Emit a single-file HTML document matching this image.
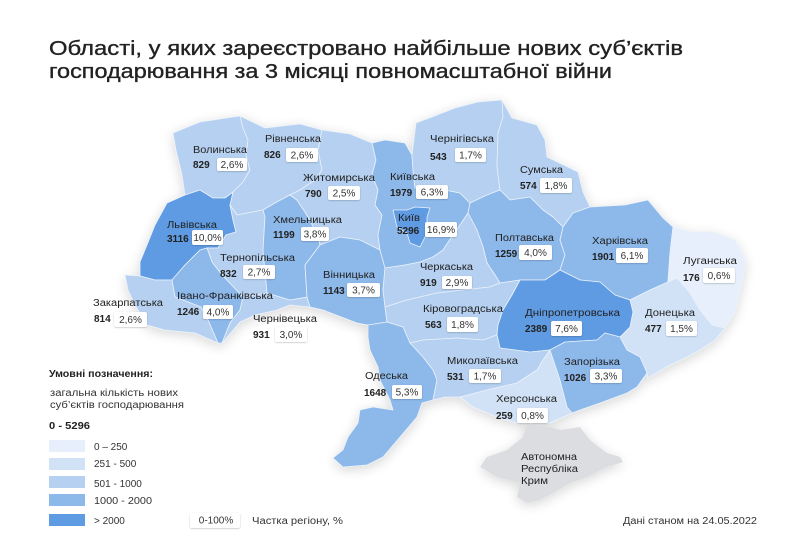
<!DOCTYPE html>
<html><head><meta charset="utf-8">
<style>
html,body{margin:0;padding:0;background:#fff;}
svg{display:block;}
text{font-family:"Liberation Sans",sans-serif;}
.n{font-size:10px;fill:#222;}
.v{font-size:10px;font-weight:bold;fill:#222;}
.p{font-size:10px;fill:#333;text-anchor:middle;}
.b{fill:#fff;filter:url(#bs);}
.c1{fill:#e6effb;}.c2{fill:#d1e2f6;}.c3{fill:#b5d0f0;}.c4{fill:#8db8ea;}.c5{fill:#5f9be2;}
.rg polygon{stroke:#e9f1fb;stroke-width:0.8;stroke-linejoin:round;}
.lg{font-size:10px;fill:#333;}
</style></head><body>
<svg width="800" height="560" viewBox="0 0 800 560" xmlns="http://www.w3.org/2000/svg">
<defs>
<filter id="sh" x="-20%" y="-20%" width="140%" height="140%">
<feGaussianBlur in="SourceAlpha" stdDeviation="6"/>
<feOffset dy="3"/>
<feComponentTransfer><feFuncA type="linear" slope="0.16"/></feComponentTransfer>
<feMerge><feMergeNode/><feMergeNode in="SourceGraphic"/></feMerge>
</filter>
<filter id="bs" x="-20%" y="-30%" width="140%" height="160%">
<feDropShadow dx="0" dy="0.6" stdDeviation="0.8" flood-color="#000" flood-opacity="0.25"/>
</filter>
</defs>
<rect width="800" height="560" fill="#fff"/>

<text x="49" y="55" font-size="20" fill="#222" stroke="#222" stroke-width="0.35" textLength="634" lengthAdjust="spacingAndGlyphs">Області, у яких зареєстровано найбільше нових суб’єктів</text>
<text x="49" y="78" font-size="20" fill="#222" stroke="#222" stroke-width="0.35" textLength="563" lengthAdjust="spacingAndGlyphs">господарювання за 3 місяці повномасштабної війни</text>

<g class="rg" filter="url(#sh)">
<!-- Crimea -->
<polygon fill="#dcdde1" style="stroke:none" points="527,423 550,427 560,430 580,427 590,440 607,453 620,457 623,462 607,467 587,477 570,483 553,493 540,500 527,503 517,497 520,483 497,477 480,467 487,457 507,450 523,437"/>
<!-- Volyn -->
<polygon class="c3" points="173,133 200,122 240,116 243,128 248,140 246,155 250,170 243,182 233,192 225,198 213,198 200,190 185,195 182,175 176,150"/>
<!-- Rivne -->
<polygon class="c3" points="240,116 265,128 300,124 322,130 318,150 322,170 315,180 300,190 290,195 275,203 263,210 237,215 230,205 233,192 243,182 250,170 246,155 248,140 243,128"/>
<!-- Lviv -->
<polygon class="c5" points="167,203 185,195 200,190 213,198 225,198 233,192 230,205 233,220 236,232 226,235 218,248 207,248 200,250 185,265 172,280 155,280 140,276 140,262 147,245 155,225"/>
<!-- Ternopil -->
<polygon class="c3" points="230,205 237,215 263,210 265,217 263,250 267,293 243,297 222,275 212,262 207,248 218,248 226,235 236,232 233,220"/>
<!-- Ivano-Frankivsk -->
<polygon class="c4" points="172,280 185,265 200,250 207,248 212,262 222,275 243,297 240,310 230,323 222,343 218,343 208,320 201,307 175,297"/>
<!-- Zakarpattia -->
<polygon class="c3" points="125,275 140,276 155,280 172,280 175,297 201,307 208,320 218,343 195,333 165,330 147,325 135,305 128,290"/>
<!-- Chernivtsi -->
<polygon class="c3" points="243,297 267,293 290,300 307,297 310,307 290,305 277,310 255,315 240,322 222,343 230,323 240,310"/>
<!-- Khmelnytsk -->
<polygon class="c4" points="263,210 275,203 290,195 297,200 305,212 318,235 320,245 305,265 307,297 290,300 267,293 263,250 265,217"/>
<!-- Zhytomyr -->
<polygon class="c3" points="322,130 350,134 372,143 376,160 372,175 378,190 375,205 382,215 378,235 380,250 360,240 340,237 320,245 318,235 305,212 297,200 290,195 300,190 315,180 322,170 318,150"/>
<!-- Vinnytsia -->
<polygon class="c4" points="320,245 340,237 360,240 380,250 385,268 383,290 385,307 387,322 368,325 357,323 323,310 310,307 307,297 305,265"/>
<!-- Kyivska -->
<polygon class="c4" points="372,143 385,140 405,143 412,155 413,170 415,188 430,190 445,190 460,193 470,203 468,213 462,222 453,235 443,250 433,257 420,262 405,265 385,268 380,250 378,235 382,215 375,205 378,190 372,175 376,160"/>
<!-- Kyiv city -->
<polygon class="c5" points="393,210 407,210 415,207 430,208 427,217 427,233 420,247 410,243 407,233 397,227"/>
<!-- Chernihiv -->
<polygon class="c3" points="412,155 416,123 432,117 455,108 478,102 502,100 503,117 498,133 497,167 500,190 487,195 470,203 460,193 445,190 430,190 415,188 413,170"/>
<!-- Sumy -->
<polygon class="c3" points="502,100 512,118 537,125 545,140 547,157 578,172 583,192 590,207 573,213 563,227 553,217 543,210 530,197 510,200 500,190 497,167 498,133 503,117"/>
<!-- Poltava -->
<polygon class="c4" points="468,213 470,203 487,195 500,190 510,200 530,197 543,210 553,217 563,227 560,240 565,255 560,270 545,280 520,280 500,283 495,275 487,263 483,247 477,230"/>
<!-- Cherkasy -->
<polygon class="c3" points="385,268 405,265 420,262 433,257 443,250 453,235 462,222 468,213 477,230 483,247 487,263 495,275 500,283 490,287 463,290 437,293 407,300 385,307 383,290"/>
<!-- Kharkiv -->
<polygon class="c4" points="563,227 573,213 590,207 625,205 648,200 663,218 673,227 670,253 668,282 650,290 630,300 615,295 600,282 580,280 560,270 565,255 560,240"/>
<!-- Luhansk -->
<polygon class="c1" points="673,227 690,232 712,232 735,240 746,262 740,290 735,312 725,328 712,325 700,310 690,293 677,278 668,282 670,253"/>
<!-- Donetsk -->
<polygon class="c2" points="630,300 650,290 668,282 677,278 690,293 700,310 712,325 725,328 715,340 700,350 685,358 668,366 648,378 647,373 640,357 627,350 620,337 630,327 633,312"/>
<!-- Kirovohrad -->
<polygon class="c3" points="385,307 407,300 437,293 463,290 490,287 500,283 520,280 512,295 503,310 498,325 497,335 483,340 457,338 423,340 410,343 403,327 387,322"/>
<!-- Dnipro -->
<polygon class="c5" points="520,280 545,280 560,270 580,280 600,282 615,295 630,300 633,312 630,327 620,337 605,333 597,340 565,342 550,350 530,352 500,348 497,335 498,325 503,310 512,295"/>
<!-- Odesa -->
<polygon class="c4" points="368,325 387,322 403,327 410,343 423,357 433,370 437,380 433,400 422,403 417,417 400,437 383,457 367,465 343,467 333,458 343,450 348,437 358,423 360,410 373,407 393,410 390,400 380,380 378,367 370,350 368,337"/>
<!-- Mykolaiv -->
<polygon class="c3" points="410,343 423,340 457,338 483,340 497,335 500,348 530,352 550,350 543,360 537,370 517,383 487,390 460,397 445,397 433,400 437,380 433,370 423,357"/>
<!-- Kherson -->
<polygon class="c2" points="460,397 487,390 517,383 537,370 543,360 550,350 560,380 567,407 572,413 550,423 517,423 497,417 473,407"/>
<!-- Zaporizhzhia -->
<polygon class="c4" points="550,350 565,342 597,340 605,333 620,337 627,350 640,357 647,373 637,387 627,393 600,403 580,410 572,413 567,407 560,380"/>
</g>

<!-- Labels -->
<g>
<text class="n" x="193" y="153" textLength="54" lengthAdjust="spacingAndGlyphs">Волинська</text>
<text class="v" x="193" y="168">829</text>
<rect class="b" x="217" y="158" width="30" height="13" rx="2"/><text class="p" x="232" y="168">2,6%</text>

<text class="n" x="265" y="142" textLength="56" lengthAdjust="spacingAndGlyphs">Рівненська</text>
<text class="v" x="264" y="158">826</text>
<rect class="b" x="286" y="148" width="32" height="14" rx="2"/><text class="p" x="302" y="158.5">2,6%</text>

<text class="n" x="303" y="181" textLength="72" lengthAdjust="spacingAndGlyphs">Житомирська</text>
<text class="v" x="305" y="197">790</text>
<rect class="b" x="328" y="186" width="32" height="14" rx="2"/><text class="p" x="344" y="196.5">2,5%</text>

<text class="n" x="390" y="180" textLength="45" lengthAdjust="spacingAndGlyphs">Київська</text>
<text class="v" x="390" y="196">1979</text>
<rect class="b" x="416" y="185" width="32" height="14" rx="2"/><text class="p" x="432" y="195.5">6,3%</text>

<text class="n" x="430" y="142" textLength="64" lengthAdjust="spacingAndGlyphs">Чернігівська</text>
<text class="v" x="430" y="160">543</text>
<rect class="b" x="455" y="148" width="31" height="14" rx="2"/><text class="p" x="470.5" y="158.5">1,7%</text>

<text class="n" x="520" y="173" textLength="43" lengthAdjust="spacingAndGlyphs">Сумська</text>
<text class="v" x="520" y="189">574</text>
<rect class="b" x="540" y="178" width="32" height="15" rx="2"/><text class="p" x="556" y="189">1,8%</text>

<text class="n" x="398" y="221" textLength="22" lengthAdjust="spacingAndGlyphs">Київ</text>
<text class="v" x="397" y="234">5296</text>
<rect class="b" x="425" y="222" width="32" height="15" rx="2"/><text class="p" x="441" y="233">16,9%</text>

<text class="n" x="167" y="228" textLength="50" lengthAdjust="spacingAndGlyphs">Львівська</text>
<text class="v" x="167" y="242">3116</text>
<rect class="b" x="192" y="230" width="31" height="15" rx="2"/><text class="p" x="207.5" y="241">10,0%</text>

<text class="n" x="273" y="223" textLength="69" lengthAdjust="spacingAndGlyphs">Хмельницька</text>
<text class="v" x="273" y="238">1199</text>
<rect class="b" x="301" y="227" width="28" height="14" rx="2"/><text class="p" x="315" y="237.5">3,8%</text>

<text class="n" x="495" y="241" textLength="59" lengthAdjust="spacingAndGlyphs">Полтавська</text>
<text class="v" x="495" y="257">1259</text>
<rect class="b" x="519" y="245" width="33" height="15" rx="2"/><text class="p" x="535.5" y="256">4,0%</text>

<text class="n" x="592" y="244" textLength="56" lengthAdjust="spacingAndGlyphs">Харківська</text>
<text class="v" x="592" y="260">1901</text>
<rect class="b" x="616" y="248" width="32" height="15" rx="2"/><text class="p" x="632" y="259">6,1%</text>

<text class="n" x="683" y="264" textLength="54" lengthAdjust="spacingAndGlyphs">Луганська</text>
<text class="v" x="683" y="281">176</text>
<rect class="b" x="703" y="268" width="32" height="15" rx="2"/><text class="p" x="719" y="279">0,6%</text>

<text class="n" x="220" y="261" textLength="75" lengthAdjust="spacingAndGlyphs">Тернопільська</text>
<text class="v" x="220" y="277">832</text>
<rect class="b" x="243" y="265" width="32" height="14" rx="2"/><text class="p" x="259" y="275.5">2,7%</text>

<text class="n" x="323" y="278" textLength="52" lengthAdjust="spacingAndGlyphs">Вінницька</text>
<text class="v" x="323" y="294">1143</text>
<rect class="b" x="347" y="283" width="33" height="14" rx="2"/><text class="p" x="363.5" y="293.5">3,7%</text>

<text class="n" x="420" y="270" textLength="53" lengthAdjust="spacingAndGlyphs">Черкаська</text>
<text class="v" x="420" y="286">919</text>
<rect class="b" x="442" y="276" width="30" height="13" rx="2"/><text class="p" x="457" y="286">2,9%</text>

<text class="n" x="423" y="312" textLength="80" lengthAdjust="spacingAndGlyphs">Кіровоградська</text>
<text class="v" x="425" y="328">563</text>
<rect class="b" x="447" y="317" width="31" height="15" rx="2"/><text class="p" x="462.5" y="328">1,8%</text>

<text class="n" x="525" y="316" textLength="95" lengthAdjust="spacingAndGlyphs">Дніпропетровська</text>
<text class="v" x="525" y="332">2389</text>
<rect class="b" x="551" y="321" width="31" height="15" rx="2"/><text class="p" x="566.5" y="332">7,6%</text>

<text class="n" x="645" y="316" textLength="50" lengthAdjust="spacingAndGlyphs">Донецька</text>
<text class="v" x="645" y="332">477</text>
<rect class="b" x="666" y="321" width="31" height="15" rx="2"/><text class="p" x="681.5" y="332">1,5%</text>

<text class="n" x="93" y="306" textLength="70" lengthAdjust="spacingAndGlyphs">Закарпатська</text>
<text class="v" x="94" y="322">814</text>
<rect class="b" x="114" y="312" width="33" height="15" rx="2"/><text class="p" x="130.5" y="323">2,6%</text>

<text class="n" x="177" y="299" textLength="96" lengthAdjust="spacingAndGlyphs">Івано-Франківська</text>
<text class="v" x="177" y="315">1246</text>
<rect class="b" x="203" y="305" width="30" height="14" rx="2"/><text class="p" x="218" y="315.5">4,0%</text>

<text class="n" x="253" y="322" textLength="64" lengthAdjust="spacingAndGlyphs">Чернівецька</text>
<text class="v" x="253" y="338">931</text>
<rect class="b" x="275" y="327" width="32" height="15" rx="2"/><text class="p" x="291" y="338">3,0%</text>

<text class="n" x="365" y="379" textLength="43" lengthAdjust="spacingAndGlyphs">Одеська</text>
<text class="v" x="364" y="396">1648</text>
<rect class="b" x="392" y="385" width="30" height="14" rx="2"/><text class="p" x="407" y="395.5">5,3%</text>

<text class="n" x="447" y="364" textLength="71" lengthAdjust="spacingAndGlyphs">Миколаївська</text>
<text class="v" x="447" y="380">531</text>
<rect class="b" x="469" y="369" width="32" height="14" rx="2"/><text class="p" x="485" y="379.5">1,7%</text>

<text class="n" x="564" y="365" textLength="56" lengthAdjust="spacingAndGlyphs">Запорізька</text>
<text class="v" x="564" y="381">1026</text>
<rect class="b" x="590" y="369" width="32" height="14" rx="2"/><text class="p" x="606" y="379.5">3,3%</text>

<text class="n" x="496" y="402" textLength="61" lengthAdjust="spacingAndGlyphs">Херсонська</text>
<text class="v" x="496" y="419">259</text>
<rect class="b" x="517" y="408" width="31" height="15" rx="2"/><text class="p" x="532.5" y="419">0,8%</text>

<text class="n" x="521" y="460" textLength="56" lengthAdjust="spacingAndGlyphs" fill="#333">Автономна</text>
<text class="n" x="521" y="472" textLength="57" lengthAdjust="spacingAndGlyphs" fill="#333">Республіка</text>
<text class="n" x="521" y="484" textLength="27" lengthAdjust="spacingAndGlyphs" fill="#333">Крим</text>
</g>

<!-- Legend -->
<text x="49" y="377" font-size="10" font-weight="bold" fill="#222" textLength="104" lengthAdjust="spacingAndGlyphs">Умовні позначення:</text>
<text class="lg" x="50" y="396" textLength="128" lengthAdjust="spacingAndGlyphs">загальна кількість нових</text>
<text class="lg" x="50" y="408" textLength="134" lengthAdjust="spacingAndGlyphs">суб’єктів господарювання</text>
<text x="49" y="429" font-size="10" font-weight="bold" fill="#222" textLength="41" lengthAdjust="spacingAndGlyphs">0 - 5296</text>

<rect x="49" y="440" width="36" height="12" fill="#e6effb"/>
<rect x="49" y="458" width="36" height="12" fill="#d1e2f6"/>
<rect x="49" y="476" width="36" height="12" fill="#b5d0f0"/>
<rect x="49" y="494" width="36" height="12" fill="#8db8ea"/>
<rect x="49" y="514" width="36" height="12" fill="#5f9be2"/>
<text class="lg" x="94" y="450">0 – 250</text>
<text class="lg" x="94" y="467">251 - 500</text>
<text class="lg" x="94" y="487">501 - 1000</text>
<text class="lg" x="94" y="504" textLength="58" lengthAdjust="spacingAndGlyphs">1000 - 2000</text>
<text class="lg" x="94" y="524">&gt; 2000</text>

<rect class="b" x="190" y="513" width="50" height="15" rx="2"/>
<text class="p" x="216" y="523.5">0-100%</text>
<text class="lg" x="252" y="524" textLength="91" lengthAdjust="spacingAndGlyphs">Частка регіону, %</text>

<text class="lg" x="623" y="524" textLength="134" lengthAdjust="spacingAndGlyphs">Дані станом на 24.05.2022</text>
</svg>
</body></html>
